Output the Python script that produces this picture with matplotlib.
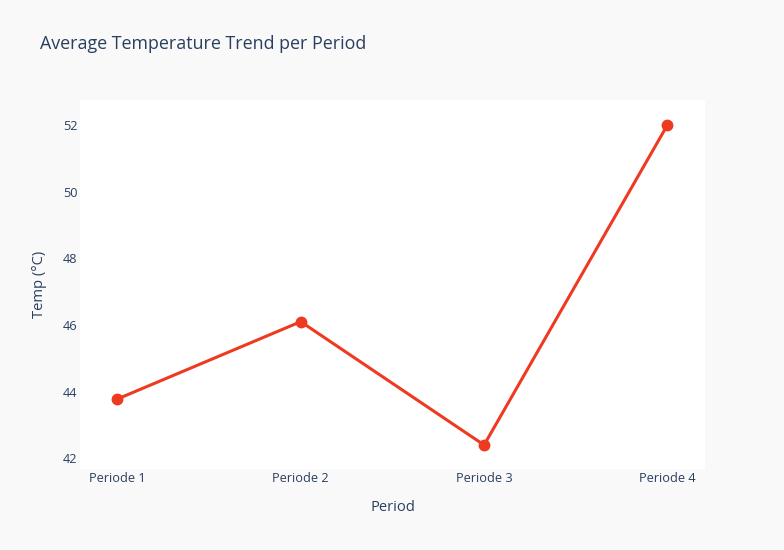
import matplotlib.pyplot as plt

# Data
periods = ['Periode 1', 'Periode 2', 'Periode 3', 'Periode 4']
avg_temp = [43.78, 46.1, 42.4, 52.0]

plt.rcParams['font.family'] = ['Open Sans', 'DejaVu Sans']
text_color = '#2a3f5f'
line_color = '#ee3a20'

fig = plt.figure(figsize=(7.84, 5.5), dpi=100)
fig.patch.set_facecolor('#f9f9f9')
ax = fig.add_axes([80 / 784, 81 / 550, 625 / 784, 369 / 550])
ax.set_facecolor('white')

x = range(len(periods))
ax.plot(x, avg_temp, color=line_color, linewidth=2.2, marker='o', markersize=7.5)

# Axis ranges like plotly's auto padding
ax.set_xlim(-0.204, 3.205)
ax.set_ylim(41.68, 52.75)
ax.set_xticks(list(x))
ax.set_xticklabels(periods)
ax.set_yticks([42, 44, 46, 48, 50, 52])

for s in ax.spines.values():
    s.set_visible(False)
ax.tick_params(axis='both', length=0, labelsize=9.2, colors=text_color)
ax.tick_params(axis='y', pad=2)
ax.tick_params(axis='x', pad=2)

ax.set_xlabel('Period', fontsize=10.6, color=text_color, labelpad=11)
ax.set_ylabel('Temp (°C)', fontsize=10.6, color=text_color, labelpad=11)

fig.text(40 / 784, 1 - 44 / 550, 'Average Temperature Trend per Period',
         fontsize=12.9, color=text_color, ha='left', va='center')

fig.savefig('out.png', dpi=100, facecolor=fig.get_facecolor())
